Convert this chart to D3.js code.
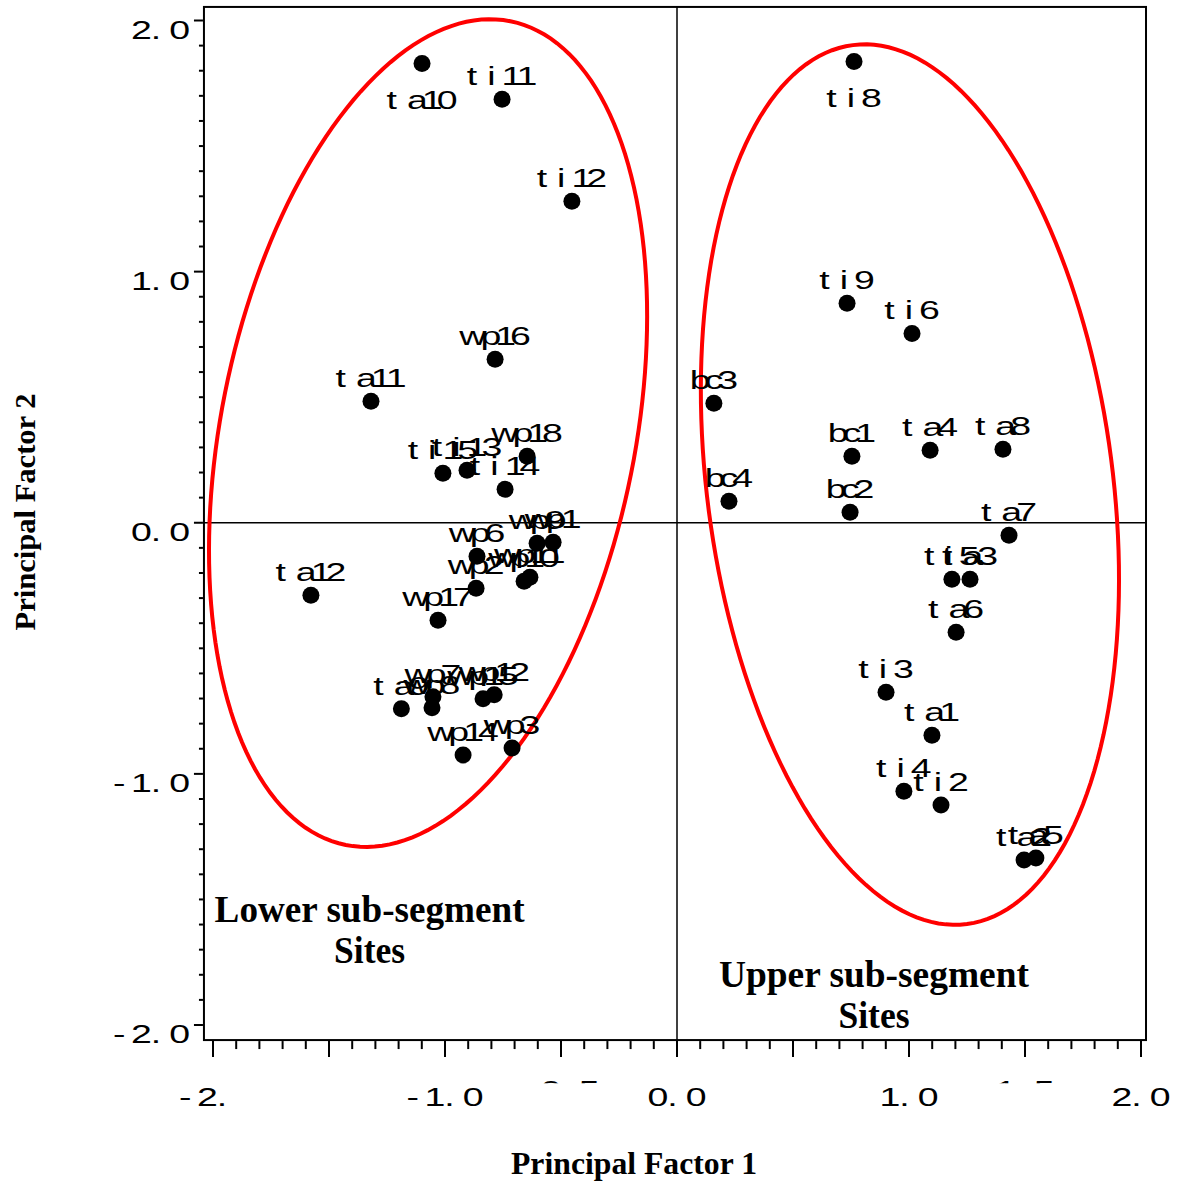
<!DOCTYPE html>
<html>
<head>
<meta charset="utf-8">
<script src="https://cdn.jsdelivr.net/npm/d3@7"></script>
<style>
  html, body { margin: 0; padding: 0; background: #fff; }
  svg { display: block; }
</style>
</head>
<body>
<svg id="chart" width="1178" height="1183"></svg>
<script>
// ---------------- data ----------------
const siteNames = [
  "ta10","ti11","ti12","wp16","ta11","ti15","ti13","wp18","ti14",
  "wp9","wp1","wp6","wp2","wp10","wp11","ta12","wp17",
  "ta9","wp7","wp8","wp15","wp12","wp14","wp3",
  "ti8","ti9","ti6","bc3","bc1","ta4","ta8","bc4","bc2","ta7",
  "ti5","ta3","ta6","ti3","ta1","ti4","ti2","ta2","ta5"
];
const factor1 = [
  -1.099,-0.754,-0.453,-0.784,-1.319,-1.009,-0.905,-0.646,-0.741,
  -0.603,-0.534,-0.862,-0.866,-0.659,-0.634,-1.578,-1.030,
  -1.188,-1.052,-1.056,-0.836,-0.788,-0.922,-0.711,
  0.763,0.733,1.013,0.159,0.754,1.091,1.405,0.224,0.746,1.431,
  1.185,1.263,1.203,0.901,1.099,0.978,1.138,1.496,1.547
];
const factor2 = [
  1.829,1.686,1.280,0.651,0.484,0.197,0.209,0.265,0.133,
  -0.082,-0.078,-0.133,-0.261,-0.233,-0.217,-0.289,-0.388,
  -0.741,-0.693,-0.737,-0.701,-0.685,-0.925,-0.897,
  1.837,0.874,0.754,0.476,0.265,0.289,0.293,0.086,0.042,-0.050,
  -0.225,-0.225,-0.436,-0.675,-0.846,-1.069,-1.124,-1.343,-1.335
];
const labelsBelow = ["ta10","ti8"];

const xTickLabels = [
  {v:-2.0, t:"-2."},{v:-1.0, t:"-1.0"},{v:0.0, t:"0.0"},{v:1.0, t:"1.0"},{v:2.0, t:"2.0"}
];
const xHiddenLabels = [{v:-0.5, t:"-0.5"},{v:1.5, t:"1.5"}];
const yTickLabels = [
  {v:2.0, t:"2.0"},{v:1.0, t:"1.0"},{v:0.0, t:"0.0"},{v:-1.0, t:"-1.0"},{v:-2.0, t:"-2.0"}
];

// group ellipses: centre and conjugate semi-axis vectors, in factor units
const ellipseCx = [-1.073, 1.004];
const ellipseCy = [0.357, 0.152];
const ellipseU  = [[0.355, 1.640], [-0.246, 1.750]];
const ellipseV  = [[-0.875, 0.1615], [-0.867, -0.104]];

const groupTitles = [
  {lines:["Lower sub-segment","Sites"], x:-1.325, y:-1.590},
  {lines:["Upper sub-segment","Sites"], x:0.849, y:-1.849}
];
const xTitle = "Principal Factor 1";
const yTitle = "Principal Factor 2";

// ---------------- drawing ----------------
const svg = d3.select("#chart");
const x = d3.scaleLinear().domain([-2, 2]).range([213, 1141]);
const y = d3.scaleLinear().domain([-2, 2]).range([1025, 20.5]);
const frameX = [-2.039, 2.0216];
const frameY = [-2.060, 2.054];

const sansFont = "'Liberation Sans', Arial, sans-serif";
const serifFont = "'Liberation Serif', 'Times New Roman', serif";

// SAS-like text: glyphs stretched horizontally, tight tracking,
// narrow glyphs (t, i, ., -) sit in wider cells.
const SX = 1.5;
const GAP = -6;
const pad = {"t":16, "i":12, ".":14, "-":11.5};
const padBefore = {".":5};
function sasText(parent, str, px, py, anchor) {
  const t = parent.append("text")
    .attr("transform", `translate(${px},${py}) scale(${SX},1)`)
    .attr("text-anchor", anchor)
    .attr("font-family", sansFont).attr("font-size", 25).attr("fill", "#000");
  const chars = Array.from(str);
  chars.forEach((c, k) => {
    const dx = k === 0 ? 0 : (GAP + (pad[chars[k-1]] || 0) + (padBefore[c] || 0)) / SX;
    t.append("tspan").attr("dx", dx).text(c);
  });
  return t;
}

// frame
const fx0 = x(frameX[0]), fx1 = x(frameX[1]), fy0 = y(frameY[1]), fy1 = y(frameY[0]);
svg.append("rect")
  .attr("x", fx0).attr("y", fy0)
  .attr("width", fx1 - fx0).attr("height", fy1 - fy0)
  .attr("fill", "none").attr("stroke", "#000").attr("stroke-width", 2);

// reference lines at zero
svg.append("line").attr("x1", x(0)).attr("x2", x(0)).attr("y1", fy0).attr("y2", fy1)
  .attr("stroke", "#000").attr("stroke-width", 1.5);
svg.append("line").attr("x1", fx0).attr("x2", fx1).attr("y1", y(0)).attr("y2", y(0))
  .attr("stroke", "#000").attr("stroke-width", 1.5);

// ticks
const tickVals = d3.range(-20, 21).map(k => k / 10);
const isMajor = v => Math.abs(Math.round(v * 2) - v * 2) < 1e-6;
svg.append("g").selectAll("line").data(tickVals).join("line")
  .attr("x1", d => x(d)).attr("x2", d => x(d))
  .attr("y1", fy1 + 1).attr("y2", d => isMajor(d) ? fy1 + 17 : fy1 + 9)
  .attr("stroke", "#000").attr("stroke-width", 2);
svg.append("g").selectAll("line").data(tickVals).join("line")
  .attr("y1", d => y(d)).attr("y2", d => y(d))
  .attr("x1", fx0 - 1).attr("x2", d => Math.abs(d - Math.round(d)) < 1e-6 ? fx0 - 10 : fx0 - 5)
  .attr("stroke", "#000").attr("stroke-width", 2);

// x tick labels
xTickLabels.forEach(d => {
  if (d.t === "-2.") sasText(svg, d.t, x(d.v) - 34, 1106, "start");
  else sasText(svg, d.t, x(d.v), 1106, "middle");
});
// partially hidden labels (only a sliver of their top edge is visible)
const defs = svg.append("defs");
defs.append("clipPath").attr("id", "sliver")
  .append("rect").attr("x", 0).attr("y", 1081).attr("width", 1178).attr("height", 2.2);
const hiddenG = svg.append("g").attr("clip-path", "url(#sliver)");
xHiddenLabels.forEach(d => sasText(hiddenG, d.t, x(d.v), 1099, "middle"));

// y tick labels
yTickLabels.forEach(d => sasText(svg, d.t, 190, y(d.v) + 18.3, "end"));

// axis titles
svg.append("text")
  .attr("x", 634).attr("y", 1174)
  .attr("text-anchor", "middle")
  .attr("font-family", serifFont).attr("font-weight", "bold").attr("font-size", 31)
  .attr("textLength", 246).attr("lengthAdjust", "spacingAndGlyphs")
  .text(xTitle);
svg.append("text")
  .attr("transform", "translate(35,512) rotate(-90)")
  .attr("text-anchor", "middle")
  .attr("font-family", serifFont).attr("font-weight", "bold").attr("font-size", 30)
  .attr("textLength", 237).attr("lengthAdjust", "spacingAndGlyphs")
  .text(yTitle);

// ellipses
const line = d3.line().curve(d3.curveLinearClosed);
ellipseCx.forEach((cx, k) => {
  const pts = d3.range(0, 360, 2).map(a => {
    const t = a * Math.PI / 180;
    const px = cx + ellipseU[k][0] * Math.cos(t) + ellipseV[k][0] * Math.sin(t);
    const py = ellipseCy[k] + ellipseU[k][1] * Math.cos(t) + ellipseV[k][1] * Math.sin(t);
    return [x(px), y(py)];
  });
  svg.append("path").attr("d", line(pts))
    .attr("fill", "none").attr("stroke", "#ff0000").attr("stroke-width", 4);
});

// points
const sites = siteNames.map((n, k) => ({name: n, f1: factor1[k], f2: factor2[k]}));
svg.append("g").selectAll("circle").data(sites).join("circle")
  .attr("cx", d => x(d.f1)).attr("cy", d => y(d.f2))
  .attr("r", 8.5).attr("fill", "#000");

// point labels
const lg = svg.append("g");
sites.forEach(d => {
  const below = labelsBelow.includes(d.name);
  sasText(lg, d.name, x(d.f1), y(d.f2) + (below ? 46 : -14), "middle");
});

// group titles
groupTitles.forEach(g => {
  g.lines.forEach((s, k) => {
    svg.append("text")
      .attr("x", x(g.x)).attr("y", y(g.y) + k * 41)
      .attr("text-anchor", "middle")
      .attr("font-family", serifFont).attr("font-weight", "bold").attr("font-size", 38)
      .attr("textLength", k === 0 ? 310 : 71).attr("lengthAdjust", "spacingAndGlyphs")
      .text(s);
  });
});
</script>
</body>
</html>
